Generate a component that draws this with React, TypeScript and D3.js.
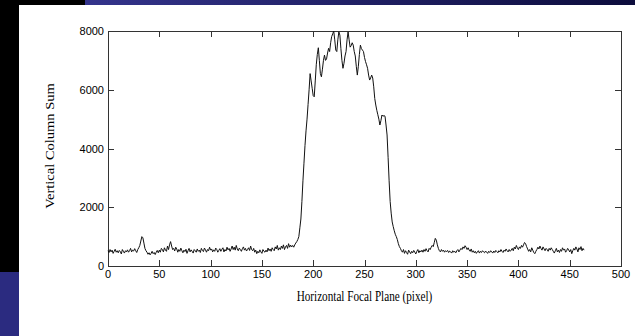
import React from "react";
import * as d3 from "d3";

// Vertical column sum per horizontal focal-plane pixel (index = pixel)
const columnSumRows: number[][] = [
  [520, 460, 560, 480, 540, 430, 500, 570, 470, 520],
  [450, 530, 490, 410, 560, 500, 440, 520, 480, 550],
  [470, 520, 600, 480, 540, 510, 590, 520, 460, 560],
  [620, 700, 850, 1000, 960, 780, 600, 520, 470, 400],
  [450, 380, 430, 500, 420, 460, 390, 470, 530, 450],
  [540, 470, 600, 560, 480, 620, 540, 500, 680, 560],
  [720, 830, 680, 560, 600, 510, 640, 580, 470, 560],
  [500, 610, 520, 450, 540, 490, 570, 430, 520, 600],
  [480, 550, 500, 440, 560, 520, 470, 580, 500, 540],
  [460, 600, 530, 490, 610, 550, 470, 560, 520, 640],
  [540, 580, 480, 550, 500, 610, 560, 470, 530, 590],
  [500, 570, 620, 480, 560, 510, 640, 550, 600, 500],
  [580, 680, 560, 640, 540, 700, 580, 520, 610, 560],
  [500, 590, 650, 540, 600, 510, 560, 620, 530, 680],
  [560, 520, 600, 470, 540, 420, 500, 450, 550, 480],
  [430, 560, 500, 470, 540, 480, 610, 520, 580, 500],
  [620, 560, 520, 650, 580, 700, 540, 620, 560, 680],
  [600, 720, 560, 650, 700, 600, 760, 640, 710, 650],
  [700, 640, 720, 780, 830, 900, 1000, 1300, 1600, 2200],
  [2900, 3500, 4100, 4600, 5000, 5500, 6000, 6550, 6300, 6050],
  [5800, 5760, 6300, 6850, 7200, 7430, 7000, 6550, 6440, 6700],
  [7000, 7180, 7000, 7050, 7250, 7410, 7300, 7600, 7810, 7900],
  [8000, 7700, 7350, 7300, 7700, 7970, 7860, 7400, 7000, 6730],
  [6900, 7150, 7300, 7700, 7970, 7700, 7450, 7500, 7600, 7520],
  [7300, 7150, 6800, 6500, 6800, 7200, 7520, 7400, 7350, 7300],
  [7100, 6960, 6850, 6730, 6500, 6330, 6400, 6500, 6400, 6100],
  [5700, 5480, 5300, 5150, 5000, 4800, 4950, 5140, 5100, 5120],
  [5100, 4800, 4460, 3700, 2900, 2200, 1800, 1500, 1340, 1200],
  [1080, 1000, 900, 760, 660, 600, 520, 470, 560, 430],
  [520, 460, 400, 540, 480, 420, 500, 450, 530, 470],
  [410, 500, 560, 450, 520, 480, 540, 470, 560, 500],
  [590, 520, 480, 600, 560, 640, 700, 660, 800, 940],
  [880, 720, 600, 520, 480, 560, 500, 540, 470, 520],
  [490, 530, 460, 510, 480, 440, 520, 470, 500, 450],
  [520, 560, 480, 540, 600, 560, 650, 600, 690, 640],
  [560, 620, 540, 500, 580, 470, 520, 450, 500, 430],
  [480, 520, 440, 500, 460, 520, 480, 450, 510, 470],
  [430, 500, 460, 520, 480, 440, 510, 460, 530, 490],
  [450, 520, 480, 560, 500, 460, 540, 500, 580, 520],
  [480, 560, 500, 540, 600, 520, 640, 580, 700, 620],
  [560, 650, 600, 700, 640, 720, 800, 760, 660, 580],
  [500, 560, 480, 620, 540, 460, 420, 500, 560, 640],
  [580, 680, 600, 540, 650, 580, 520, 600, 560, 500],
  [600, 540, 620, 560, 500, 440, 520, 600, 480, 540],
  [460, 560, 500, 620, 540, 580, 470, 520, 600, 550],
  [480, 560, 420, 520, 600, 540, 650, 580, 480, 620],
  [560, 660, 520, 600, 540],
];
const columnSum: number[] = columnSumRows.flat();

const xTicks = [0, 50, 100, 150, 200, 250, 300, 350, 400, 450, 500];
const yTicks = [0, 2000, 4000, 6000, 8000];
const xLabel = "Horizontal Focal Plane (pixel)";
const yLabel = "Vertical Column Sum";

const W = 635;
const H = 336;
const plot = { left: 108, right: 621, top: 31, bottom: 266 };
const tickLen = 6;
const tickFont = "'Liberation Sans Narrow', 'Liberation Sans', Arial, sans-serif";
const titleFont = "'Liberation Serif', 'Times New Roman', serif";
const squeeze = 0.8;

export default function App() {
  const x = d3.scaleLinear().domain([0, 500]).range([plot.left, plot.right]);
  const y = d3.scaleLinear().domain([0, 8000]).range([plot.bottom, plot.top]);
  const line = d3
    .line<number>()
    .x((_, i) => x(i))
    .y((d) => y(d));
  const axisColor = "#333";

  return (
    <div style={{ position: "fixed", left: 0, top: 0, width: W, height: H }}>
      <svg width={W} height={H} style={{ display: "block" }}>
        <defs>
          <linearGradient id="topbar" x1="0" x2="1" y1="0" y2="0">
            <stop offset="0" stopColor="#34348c" />
            <stop offset="1" stopColor="#0c0c3c" />
          </linearGradient>
        </defs>
        <rect x={0} y={0} width={W} height={H} fill="#ffffff" />
        <rect x={0} y={0} width={19} height={272} fill="#000000" />
        <rect x={0} y={272} width={19} height={H - 272} fill="#2b2b80" />
        <rect x={0} y={0} width={85} height={5} fill="#000000" />
        <rect x={85} y={0} width={W - 85} height={5} fill="url(#topbar)" />

        {/* frame */}
        <rect
          x={plot.left + 0.5}
          y={plot.top + 0.5}
          width={plot.right - plot.left}
          height={plot.bottom - plot.top}
          fill="none"
          stroke={axisColor}
          strokeWidth={1}
        />

        {/* x ticks */}
        {xTicks.map((t) => {
          const px = Math.round(x(t)) + 0.5;
          return (
            <g key={"x" + t}>
              <line x1={px} x2={px} y1={plot.bottom} y2={plot.bottom - tickLen} stroke={axisColor} />
              <line x1={px} x2={px} y1={plot.top} y2={plot.top + tickLen} stroke={axisColor} />
              <text
                x={x(t)}
                y={plot.bottom + 12}
                textAnchor="middle"
                fontFamily={tickFont}
                fontSize={11}
                fill="#000"
              >
                {t}
              </text>
            </g>
          );
        })}

        {/* y ticks */}
        {yTicks.map((t) => {
          const py = Math.round(y(t)) + 0.5;
          return (
            <g key={"y" + t}>
              <line x1={plot.left} x2={plot.left + tickLen} y1={py} y2={py} stroke={axisColor} />
              <line x1={plot.right} x2={plot.right - tickLen} y1={py} y2={py} stroke={axisColor} />
              <text
                x={plot.left - 4}
                y={y(t) + 4}
                textAnchor="end"
                fontFamily={tickFont}
                fontSize={11}
                fill="#000"
              >
                {t}
              </text>
            </g>
          );
        })}

        <path d={line(columnSum) || ""} fill="none" stroke="#111" strokeWidth={1} strokeLinejoin="round" />

        <text
          transform={`translate(${(plot.left + plot.right) / 2}, 301) scale(${squeeze}, 1)`}
          textAnchor="middle"
          fontFamily={titleFont}
          fontSize={14}
          fill="#000"
        >
          {xLabel}
        </text>
        <text
          transform={`translate(54, 146) rotate(-90) scale(1, ${squeeze})`}
          textAnchor="middle"
          fontFamily={titleFont}
          fontSize={14.5}
          fill="#000"
        >
          {yLabel}
        </text>
      </svg>
    </div>
  );
}
